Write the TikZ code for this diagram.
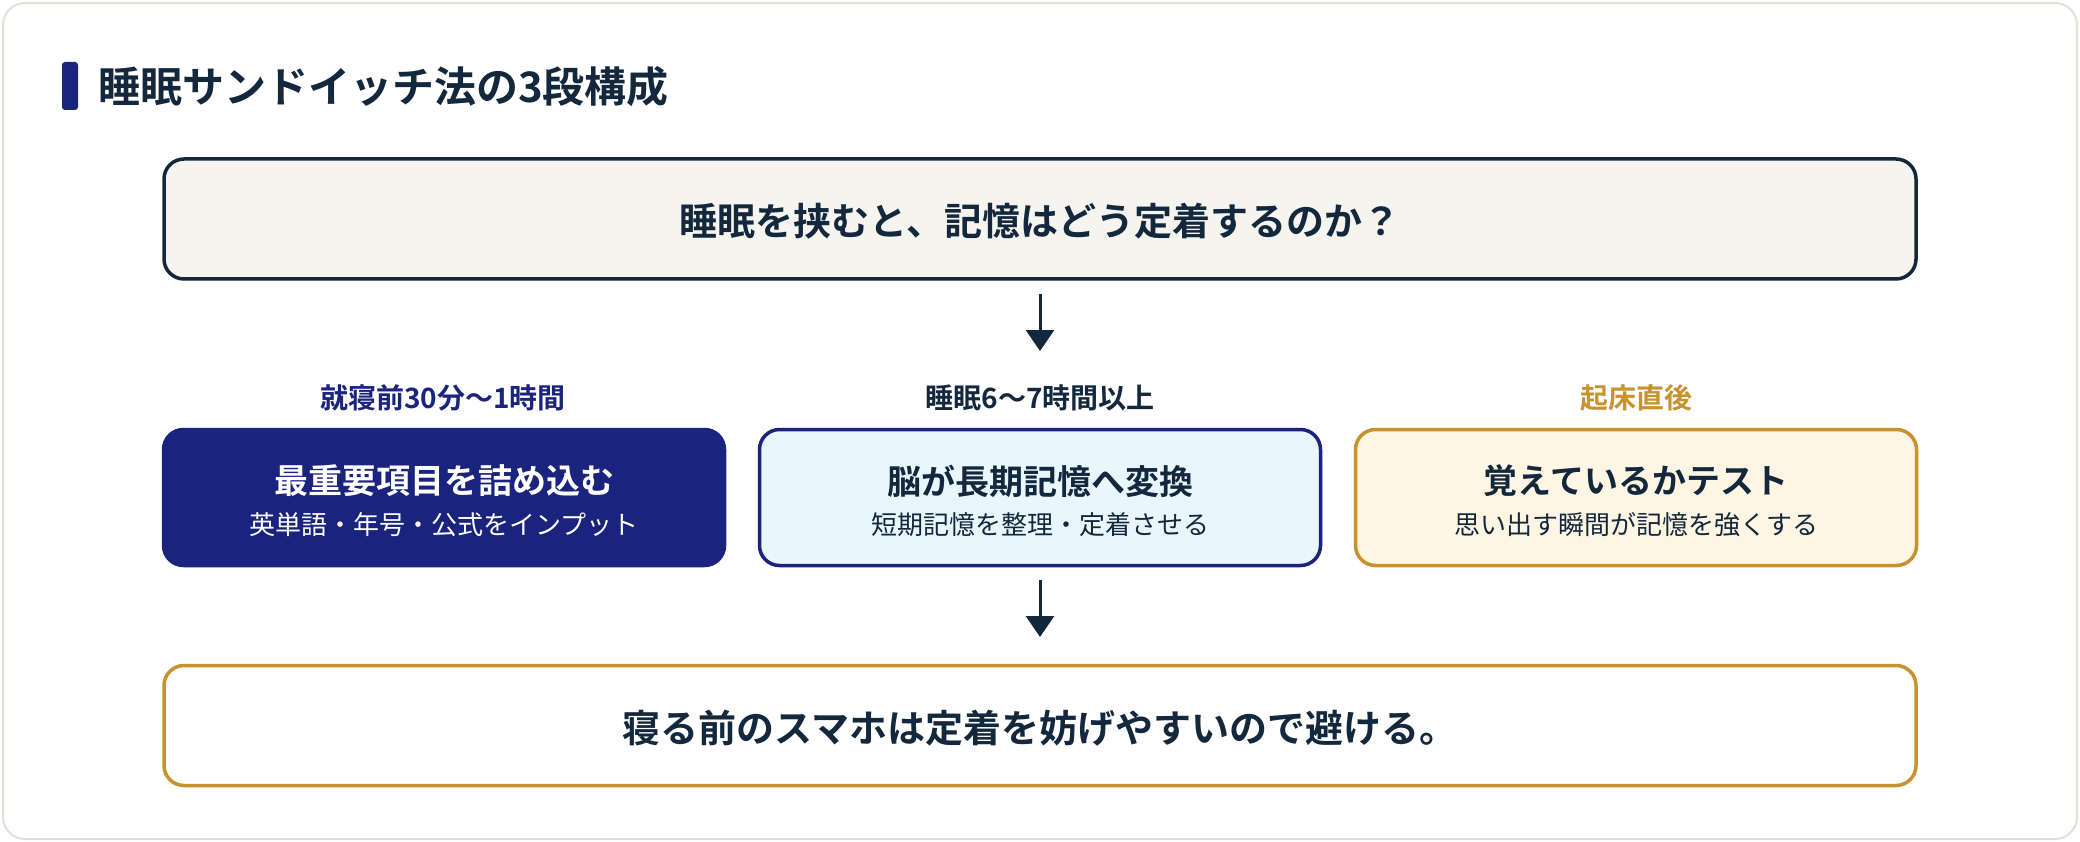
\documentclass[tikz,border=0pt]{standalone}
\usepackage{fontspec}
\setmainfont{Noto Sans CJK JP}[BoldFont={Noto Sans CJK JP Bold}]
\usetikzlibrary{arrows.meta}
\definecolor{ink}{HTML}{13283D}
\definecolor{navy}{HTML}{1A237E}
\definecolor{gold}{HTML}{C8922F}
\definecolor{cardline}{HTML}{E3E1D7}
\definecolor{qfill}{HTML}{F5F4EF}
\definecolor{cyanfill}{HTML}{E9F7FD}
\definecolor{creamfill}{HTML}{FFF5E3}
\tikzset{
  fs/.style={font=\fontsize{#1}{#1}\selectfont},
  bfs/.style={font=\fontsize{#1}{#1}\selectfont\bfseries},
  wide/.style={rectangle, rounded corners=20pt, line width=3.5pt, minimum width=1752pt, minimum height=120pt, inner sep=0pt},
  stagebox/.style={rectangle, rounded corners=20pt, line width=3.5pt, minimum width=561pt, minimum height=136pt, inner sep=0pt},
  flow/.style={draw=ink, line width=3pt, -{Triangle[width=28pt,length=21pt]}},
  lbl/.style={bfs=28, inner sep=0pt},
  btitle/.style={bfs=34, inner sep=0pt},
  bsub/.style={fs=26, inner sep=0pt},
}
\begin{document}
\begin{tikzpicture}[x=1pt,y=-1pt]
\useasboundingbox (0,0) rectangle (2080,842);
\fill[white] (0,0) rectangle (2080,842);
\draw[cardline, line width=2pt, fill=white, rounded corners=22pt] (3,3) rectangle (2077,839);
% title
\node[fill=navy, rounded corners=3pt, minimum width=16pt, minimum height=48pt, inner sep=0pt] (bar) at (70,86) {};
\node[bfs=42, text=ink, anchor=west, inner sep=0pt] (title) at (98,87) {睡眠サンドイッチ法の3段構成};
% question
\node[wide, draw=ink, fill=qfill] (q) at (1040,219) {};
\node[bfs=38, text=ink, inner sep=0pt] (qt) at (1040,221) {睡眠を挟むと、記憶はどう定着するのか？};
% arrow 1
\coordinate (a1s) at (1040,294);
\coordinate (a1e) at (1040,351);
\draw[flow] (a1s) -- (a1e);
% labels
\node[lbl, text=navy] (l1) at (443,398) {就寝前30分〜1時間};
\node[lbl, text=ink] (l2) at (1040,398) {睡眠6〜7時間以上};
\node[lbl, text=gold] (l3) at (1636,398) {起床直後};
% stage boxes
\node[stagebox, draw=navy, fill=navy] (b1) at (444,497.5) {};
\node[stagebox, draw=navy, fill=cyanfill] (b2) at (1040,497.5) {};
\node[stagebox, draw=gold, fill=creamfill] (b3) at (1636,497.5) {};
\node[btitle, text=white] (t1) at (444,481) {最重要項目を詰め込む};
\node[bsub, text=white] (s1) at (444,525) {英単語・年号・公式をインプット};
\node[btitle, text=ink] (t2) at (1040,481) {脳が長期記憶へ変換};
\node[bsub, text=ink] (s2) at (1040,525) {短期記憶を整理・定着させる};
\node[btitle, text=ink] (t3) at (1636,481) {覚えているかテスト};
\node[bsub, text=ink] (s3) at (1636,525) {思い出す瞬間が記憶を強くする};
% arrow 2
\coordinate (a2s) at (1040,580);
\coordinate (a2e) at (1040,637);
\draw[flow] (a2s) -- (a2e);
% bottom
\node[wide, draw=gold, fill=white] (w) at (1040,725.5) {};
\node[bfs=38, text=ink, inner sep=0pt] (wt) at (1040,728) {寝る前のスマホは定着を妨げやすいので避ける。};
\end{tikzpicture}
\end{document}
